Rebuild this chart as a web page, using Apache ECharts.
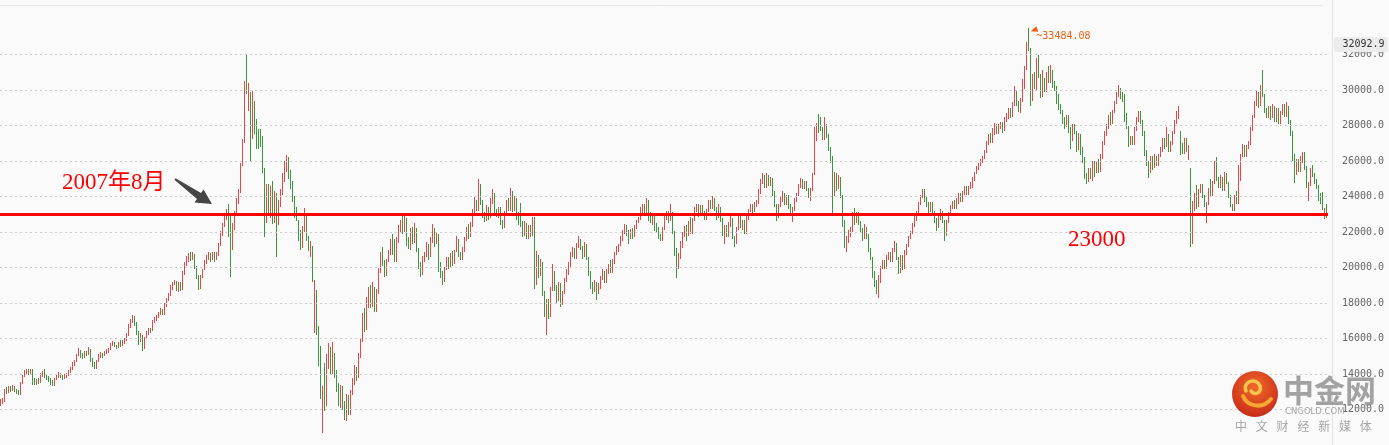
<!DOCTYPE html>
<html><head><meta charset="utf-8">
<script src="https://cdn.jsdelivr.net/npm/echarts@6/dist/echarts.min.js"></script>
<style>html,body{margin:0;padding:0;background:#fafafa}#c{width:1389px;height:445px}</style>
</head><body><div id="c"></div>
<script>
// candles: [open, close, low, high] (about one candle per ~1.4 weeks)
const c01 = [[12350,12450,12200,12600],[12450,12500,12300,12650],[12450,13100,12430,13160],[13100,13000,12900,13260],[13000,13200,12950,13300],[13200,13100,13000,13350],[13100,13300,13050,13400],[13250,13050,13000,13300],[13050,13000,12900,13150],[13000,12850,12800,13100],
[12850,13500,12800,13550],[13500,13900,13450,13950],[13900,14100,13850,14200],[14100,14250,14000,14300],[14250,14050,13950,14280],[14050,14250,14000,14300],[14250,13500,13400,14280],[13600,13450,13400,13750],[13450,13600,13400,13700],[13650,13500,13420,13800],
[13500,13950,13480,14050],[13950,14050,13850,14150],[14150,13900,13800,14300],[13900,13750,13650,14000],[13800,13650,13550,13900],[13650,13500,13400,13750],[13550,13400,13350,13650],[13400,13700,13350,13800],[13700,13850,13650,13950],[13850,14050,13800,14100],
[14000,13850,13750,14050],[13850,13750,13650,13950],[13750,13900,13700,14000],[13900,13950,13800,14050],[13950,14150,13900,14250],[14150,14300,14050,14370],[14300,14550,14250,14650],[14550,14750,14450,14800],[14750,15050,14700,15150],[15050,15300,15000,15450],
[15300,15100,14900,15350],[15100,14950,14850,15200],[14950,15200,14900,15300],[15200,15100,15000,15300],[15100,15400,15050,15500],[15350,14800,14700,15400],[14800,14500,14400,14900],[14500,14350,14280,14650],[14350,14700,14300,14800],[14700,15000,14650,15100]];
const c02 = [[15000,15150,14900,15240],[15150,15050,14900,15200],[15050,15200,15000,15300],[15200,15300,15100,15400],[15300,15400,15200,15450],[15400,15650,15380,15750],[15650,15750,15550,15850],[15750,15600,15500,15800],[15600,15500,15400,15650],[15500,15700,15450,15800],
[15700,15600,15500,15900],[15600,15800,15550,15900],[15800,15950,15700,16040],[15950,16200,15850,16300],[16200,16700,16150,16800],[16700,17000,16600,17100],[17000,17200,16900,17330],[17200,16900,16700,17250],[16900,16300,16200,16950],[16300,15900,15660,16400],
[15900,16100,15800,16300],[16100,15500,15300,16200],[15500,16000,15400,16100],[16000,16300,15950,16450],[16300,16500,16200,16590],[16500,16450,16300,16600],[16450,16950,16400,17050],[16950,17100,16870,17200],[17100,17250,17000,17330],[17250,17400,17150,17500],
[17400,17550,17300,17700],[17550,17400,17300,17650],[17400,17900,17350,18000],[17900,18200,17800,18300],[18200,18450,18100,18540],[18450,18900,18400,19000],[18900,19100,18720,19200],[19100,19200,19000,19280],[19200,18900,18700,19250],[18900,19100,18630,19200],
[19100,18800,18700,19200],[18800,19700,18750,19800],[19700,20200,19560,20300],[20200,20500,20100,20670],[20500,20700,20300,20800],[20700,20500,20350,20860],[20500,20750,20400,20860],[20750,20000,19900,20770],[20000,19500,19370,20100],[19500,18900,18720,19600]];
const c03 = [[18900,19500,18800,19600],[19500,19900,19400,19930],[19900,20300,19850,20400],[20300,20600,20200,20700],[20600,20700,20400,20860],[20700,20500,20300,20800],[20500,20800,20400,20900],[20800,20600,20300,20860],[20600,20700,20400,20860],[20700,21300,20650,21400],
[21300,21900,21200,22070],[21900,22400,21800,22500],[22400,22900,22300,23000],[22900,23200,22700,23270],[23200,22300,21700,23550],[22300,21500,19460,23000],[21500,22300,21000,22500],[22300,23100,22100,23180],[23100,23800,23000,23900],[23800,24300,23550,24400],
[24300,25800,24200,25870],[25800,27200,25700,27260],[27200,29800,27000,30500],[31000,30400,29800,31958],[29100,30200,28800,30400],[29800,27000,26000,29900],[27300,29500,27260,29960],[29300,27800,27500,29400],[28200,26800,26700,28380],[27600,26900,26700,27800],
[27500,27000,26800,27800],[27200,25500,25300,27400],[25500,23500,21700,25600],[22800,24400,22500,24700],[24600,23200,22900,24700],[23000,24500,22800,24600],[24400,22800,22450,24850],[22700,24200,22500,24300],[24000,22600,20600,24200],[22700,23700,22400,23800],
[23600,24300,23400,24400],[24200,25100,24100,25300],[25000,25800,24800,26000],[25600,26100,25400,26340],[26000,25200,25000,26200],[25300,24600,24400,25500],[24700,23900,23700,24900],[23800,23000,22800,24000],[23200,22700,22620,23400],[22600,21800,21500,22700]];
const c04 = [[21900,21300,21000,22100],[21300,22200,21100,22340],[22100,23000,22000,23360],[22800,21600,21500,22900],[21700,21000,20950,21800],[20900,21300,20600,21500],[21100,19500,19200,21230],[17000,18900,16300,19300],[18700,16500,16200,18720],[16500,14800,14450,16700],
[15400,12800,12600,15560],[12400,13000,10676,13340],[14000,12300,11900,14600],[12300,14700,12200,15100],[14500,15300,14300,15750],[15300,14200,14000,15500],[14200,15200,14000,15800],[15100,14000,13800,15200],[14000,13200,13000,14200],[13300,12400,12200,13500],
[12300,13200,12100,13400],[13200,12200,12000,13300],[12300,11800,11400,12500],[11700,12700,11345,12900],[12600,11900,11700,12800],[11800,13000,11700,13100],[12900,13600,12800,13800],[13500,14300,13400,14500],[14300,13800,13600,14400],[13900,15100,13800,15200],
[15000,15900,14900,16000],[15800,17200,15800,17450],[17000,16600,16390,17700],[16600,17900,16500,18340],[17800,18700,17700,18900],[18800,17900,17700,19000],[17900,18900,17800,19180],[18800,17600,17500,18900],[17600,18600,17500,18800],[18600,19900,18500,20000],
[19800,20700,19700,20900],[20800,20300,20100,21180],[20300,19700,19460,20400],[19600,20400,19500,20500],[20400,20900,20300,21000],[20800,21500,20700,21600],[21600,20900,20700,21880],[21500,20500,20300,21600],[20400,21500,20300,21700],[21500,22300,21400,22400]];
const c05 = [[22200,22600,22000,22700],[22700,22100,21900,23000],[22100,22800,22000,22950],[22700,21400,21200,22800],[21500,21100,21050,21700],[21100,22100,21000,22200],[22200,21500,21300,22300],[21500,22200,21400,22500],[22100,21000,20900,22200],[21000,20100,19930,21100],
[20200,19700,19460,20300],[19700,20500,19600,20670],[20400,20800,20300,20900],[20700,21300,20600,21420],[21200,20600,20400,21300],[20700,21600,20600,21700],[21500,22100,21400,22450],[22100,21400,21140,22200],[21400,21900,21300,22000],[21800,20200,19740,21900],
[20200,19600,19400,20300],[19700,19300,19000,19800],[19300,19900,19200,20020],[19900,20500,19840,20600],[20500,20100,19900,20600],[20100,20700,20000,20800],[20700,20300,20100,20950],[20300,20900,20200,21000],[20900,21600,20860,21790],[21500,20800,20600,21600],
[20800,20500,20400,20900],[20500,21000,20400,21140],[21000,21600,20900,21700],[21600,22200,21500,22300],[22200,21800,21600,22450],[21800,22400,21700,22540],[22400,23200,22300,23300],[23100,23600,23000,23950],[23700,23300,23200,23800],[23300,24700,23200,25000],
[24600,23700,23500,24700],[23700,23000,22800,23800],[23000,22700,22540,23100],[22700,23400,22600,23500],[23300,22900,22700,23400],[22900,23800,22800,23900],[23800,24200,23600,24400],[24100,23200,22900,24200],[23200,22900,22820,23300],[22900,23300,22800,23400]];
const c06 = [[23300,22600,22400,23400],[22600,22300,22170,22700],[22300,23100,22200,23200],[23100,23700,23000,23800],[23800,23300,23200,23900],[23300,24200,23200,24500],[24200,23300,23100,24300],[23300,23900,23200,24000],[23800,22900,22700,23900],[23000,22600,22400,23100],
[23300,22500,22300,23650],[22500,21900,21700,22600],[21900,22500,21800,22630],[22400,21700,21600,22500],[21700,22300,21600,22400],[22300,21900,21700,22400],[21900,22600,21800,22820],[22700,20900,18800,22820],[19400,20600,19000,20950],[20600,19600,19400,20700],
[19600,20300,19500,20500],[20200,18600,18400,20300],[18600,17600,17200,18700],[16800,18000,16170,18200],[18000,17300,17100,18200],[17300,18800,17200,18900],[18800,19800,18700,20210],[19700,18900,18700,19800],[18900,18200,18000,19000],[18200,19000,18100,19200],
[19000,18000,17780,19100],[18000,18600,17900,18700],[18600,19300,18500,19400],[19300,19800,19200,19900],[19700,20200,19600,20300],[20100,20800,20000,20900],[20700,21000,20600,21140],[21000,20600,20500,21100],[20600,21300,20500,21400],[21200,21600,21100,21800],
[21500,21100,21000,21600],[21100,20700,20500,21200],[20700,21200,20600,21420],[21200,20500,20400,21300],[20500,19700,19500,20600],[19700,19000,18800,19800],[19100,18700,18530,19200],[18700,19100,18600,19270],[19100,18600,18150,19200],[18600,19000,18500,19100]];
const c07 = [[19000,19400,18800,19500],[19400,19700,19300,19930],[19700,19200,19100,19800],[19200,19800,19100,19900],[19800,20100,19650,20200],[20100,19800,19700,20400],[19800,20400,19700,20500],[20400,20800,20200,20900],[20800,21000,20700,21200],[21000,21300,20900,21330],
[21300,21700,21200,21800],[21700,22000,21510,22100],[22000,22300,21900,22450],[22300,22000,21800,22400],[22000,21700,21330,22100],[21700,22100,21600,22170],[22100,21800,21600,22200],[21800,22300,21700,22400],[22300,22600,22170,22700],[22600,22800,22500,22820],
[22800,23300,22700,23400],[23300,23500,23000,23560],[23500,23100,23000,23600],[23100,23700,23000,23930],[23700,23000,22630,23800],[23000,22600,22500,23100],[22600,22900,22400,23000],[22900,22400,22070,23000],[22400,22200,22000,22500],[22200,21700,21600,22300],
[21800,21600,21510,21900],[21600,22200,21500,22300],[22200,22800,22100,22900],[22800,23100,22700,23190],[23100,22700,22500,23200],[22700,23300,22600,23560],[23000,22000,21900,23100],[22000,21000,20670,22070],[21000,20000,19410,21100],[20000,20700,19900,20800],
[20700,21300,20500,21510],[21200,21900,21100,22000],[21800,22300,21700,22350],[22300,21900,21510,22400],[21900,22500,21800,22600],[22500,22000,21900,22820],[22000,22700,21900,22800],[22700,23300,22600,23400],[23200,23500,23100,23560],[23500,23000,22820,23600]];
const c08 = [[23000,23400,22900,23500],[23400,23100,22900,23500],[23100,22800,22700,23200],[22800,23200,22700,23300],[23200,23700,23100,23800],[23700,23400,23300,23800],[23400,23900,23300,24030],[23800,23300,23200,23900],[23300,22900,22700,23400],[22900,23300,22800,23560],
[23300,22700,22540,23400],[22700,22000,21800,22800],[21600,22300,21330,22400],[22300,21800,21700,22400],[21800,22500,21700,22540],[22400,22800,22300,22900],[22700,21700,21600,22800],[21700,21300,21140,21800],[21400,22200,21300,22300],[22200,22800,22100,23000],
[22800,22300,22200,22900],[22300,22600,22100,22700],[22600,22000,21900,22700],[22000,22800,21900,22900],[22800,23200,22700,23280],[23200,23500,23100,23600],[23500,23200,23000,23600],[23200,23500,23100,23700],[23500,23700,23400,23800],[23700,24300,23600,24400],
[24300,24800,24120,24970],[24800,25100,24700,25330],[25100,24600,24500,25200],[24600,25100,24500,25300],[25100,24700,24600,25200],[24700,25000,24600,25100],[25000,24200,24000,25050],[24200,23500,23400,24300],[23500,22900,22630,23600],[22900,23500,22800,23600],
[23500,23900,23400,24000],[23800,24100,23700,24300],[24100,23600,23500,24200],[23600,24000,23500,24100],[24000,23500,23300,24100],[23500,23000,22900,23600],[22700,23300,22540,23400],[23300,23800,23200,23900],[23800,24100,23700,24200],[24100,24600,24000,24700]];
const c09 = [[24600,24900,24500,25050],[24900,24500,24400,25000],[24500,24800,24400,24900],[24800,24400,24300,24900],[24400,24000,23900,24500],[23900,24400,23750,24500],[24400,25200,24300,25330],[25300,27500,25200,27940],[27300,28000,27100,28130],[28100,27700,27600,28630],
[28400,27800,27700,28500],[27800,27300,27200,27900],[27300,28100,27200,28500],[28000,27400,27300,28100],[27400,26700,26550,27500],[26700,26100,25900,26800],[26100,24000,22900,26270],[24100,25200,24000,25400],[25200,24500,24300,25300],[24500,25100,24400,25200],
[25000,24000,23900,25100],[24000,22700,22260,24100],[22600,21300,21100,22700],[21000,21700,20860,21800],[21600,22000,21400,22100],[21900,22100,21700,22260],[22100,23000,22000,23100],[23000,22600,22400,23380],[22600,23000,22500,23100],[23000,22500,22400,23100],
[22500,22100,22000,22600],[22100,21700,21510,22200],[21700,22100,21600,22450],[22200,21800,21600,22300],[21800,21000,20900,21900],[21000,20500,20400,21100],[20500,19600,19400,20600],[19700,19100,18900,19800],[19200,18700,18530,19300],[18600,19500,18280,19600],
[19300,20000,19100,20100],[20000,20300,19900,20400],[20300,20000,19900,20400],[20000,20600,19900,20700],[20500,20800,20400,20860],[20800,20400,20300,20900],[20400,21000,20300,21100],[21000,21300,20900,21510],[21300,20500,20400,21400],[20500,19800,19650,20600]];
const c10 = [[19800,20600,19700,20700],[20600,20000,19840,20700],[20000,20900,19900,21000],[20800,21200,20700,21330],[21200,21700,21140,21800],[21700,22000,21600,22070],[22000,22400,21900,22500],[22400,22800,22260,22900],[22700,23100,22600,23190],[23100,23600,23000,23700],
[23600,24000,23500,24100],[24000,24300,23900,24400],[24300,23800,23700,24400],[23900,23600,23400,24000],[23600,23300,23000,23700],[23300,23600,23100,23700],[23600,23100,23000,23700],[23100,22700,22500,23190],[22700,22300,22070,22800],[22300,22800,22200,22900],
[22800,23200,22700,23300],[23100,22600,22500,23200],[22600,22000,21510,22700],[21900,22600,21800,22700],[22600,23000,22500,23100],[23000,23400,22900,23500],[23400,23700,23300,23750],[23700,23400,23300,23800],[23400,23800,23300,23900],[23800,24100,23600,24220],
[24100,23800,23700,24200],[23800,24200,23700,24300],[24200,24500,24100,24590],[24500,24200,24100,24600],[24200,24500,24100,24600],[24500,24700,24400,24800],[24700,25000,24500,25100],[25000,25300,24900,25400],[25300,25600,25240,25700],[25600,25800,25500,25900],
[25800,26000,25700,26100],[26000,26200,25900,26300],[26200,26500,26100,26600],[26500,27000,26450,27100],[27000,27400,26900,27500],[27500,27100,27000,27600],[27100,27700,27000,27850],[27700,28000,27470,28130],[28000,27700,27500,28100],[27600,28000,27530,28090]];
const c11 = [[27900,28100,27800,28200],[28100,27700,27600,28200],[27800,28400,27700,28500],[28400,28600,28180,28700],[28500,28900,28370,29000],[28900,28500,28400,29000],[28600,29200,28500,29300],[29200,29900,29100,30220],[29900,29300,29100,30000],[29300,28800,28740,29400],
[28800,29400,28700,29570],[29400,30500,29300,30600],[30500,31200,30030,31330],[31200,32500,31100,32720],[33200,32400,32200,33484.08],[32300,29500,29100,32350],[29500,30800,29400,30900],[30900,30100,30030,31000],[30100,31200,30000,31800],[31500,30800,30700,31950],
[30800,29800,29570,30900],[29700,30500,29600,31150],[30600,30000,29900,30700],[30000,30900,29900,31000],[31000,30500,30400,31330],[30500,31000,30400,31400],[31000,30300,30100,31100],[30400,30000,29940,30500],[30100,29600,29200,30200],[29700,29100,28900,29800],
[29100,28700,28640,29200],[28800,28300,28100,28900],[28400,28000,27800,28500],[28000,28500,27900,28600],[28500,27800,27600,28600],[27800,27200,26700,27900],[27200,28000,27100,28100],[28000,27600,27500,28100],[27600,26800,26500,27700],[26700,27500,26600,27600],
[27400,26700,26330,27500],[26700,26100,25900,26800],[26100,25200,25000,26200],[25200,24900,24700,25300],[24900,25500,24800,25600],[25500,25100,25000,25600],[25000,25900,24900,26000],[25900,25400,25100,26000],[25400,25900,25300,26000],[25900,25500,25300,26100]];
const c12 = [[25500,26300,25400,26400],[26300,27000,26140,27100],[27000,27500,26900,27710],[27500,28000,27400,28100],[28000,28500,27800,28600],[28500,28200,28000,28740],[28200,28800,28100,28900],[28800,29300,28700,29400],[29300,29800,29200,29900],[29800,30000,29600,30280],
[30000,29700,29500,30130],[29800,29500,29300,29900],[29600,28500,28180,29760],[28600,27900,27800,28700],[27900,27000,26800,28000],[27000,27300,26880,27430],[27300,27000,26900,27400],[27000,27800,26900,27900],[27800,28400,27700,28500],[28300,28700,28180,28830],
[28700,28200,28100,28800],[28200,27600,27400,28300],[27600,26500,26300,27700],[26500,25900,25700,26600],[25900,25400,25030,26000],[25400,26200,25300,26300],[26200,25700,25500,26300],[25700,26200,25600,26400],[26200,25800,25700,26300],[25800,26300,25700,26400],
[26300,26600,26200,26800],[26600,27200,26500,27300],[27200,26900,26700,27300],[26900,27500,26800,27900],[27400,26600,26500,27500],[26600,27000,26500,27100],[27000,27600,26900,27700],[27600,28200,27500,28300],[28200,28700,28100,28800],[28700,28800,28360,29100],
[27600,26700,26330,27700],[26900,26500,26400,27000],[26500,27200,26400,27300],[27200,26600,26500,27300],[26400,26800,26050,26900],[25600,22200,21139,25600],[22000,23300,21300,23730],[23300,24000,23200,24200],[24000,23500,23300,24650],[23500,24300,23400,24400]];
const c13 = [[24300,24600,24200,24700],[24600,24000,23900,24700],[24000,23500,23400,24100],[23100,23600,22520,23700],[23600,24400,23500,24500],[24600,24100,24000,25000],[24100,24800,24000,24900],[24800,25700,24700,26000],[25700,25000,24900,26200],[25000,24600,24500,25100],
[24600,25000,24500,25200],[25000,24400,24300,25100],[24400,25300,24300,25400],[25200,24800,24700,25300],[24800,24000,23900,24840],[24000,23500,23400,24100],[23500,23300,23170,23600],[23300,24000,23200,24100],[24000,23700,23600,24300],[23700,25000,23600,25770],
[25000,26300,24900,26400],[26300,26800,26200,26970],[26800,26300,26200,26900],[26300,26800,26200,26900],[26800,27000,26700,27100],[27000,27800,26900,27900],[27800,28500,27700,28600],[28500,29300,28400,29400],[29300,29700,29100,29940],[29800,29200,29000,29900],
[29200,30200,29100,30300],[30300,29700,29600,31150],[29700,28800,28700,29800],[28900,28500,28400,29000],[28500,29000,28400,29100],[29000,28500,28300,29100],[28500,29100,28400,29200],[29000,28300,28200,29100],[28300,28900,28200,29000],[28900,28200,28100,29000],
[28200,28700,28100,28800],[28700,29100,28600,29200],[29100,28600,28500,29200],[28600,29100,28500,29300],[29000,28200,28100,29100],[28200,27600,27430,28300],[27600,26200,26000,27700],[26300,25300,24740,26400],[25300,26000,25200,26100],[26000,25500,25400,26100]];
const c14 = [[25500,26200,25400,26300],[26000,26400,25900,26500],[26400,25600,25500,26500],[25600,24800,24470,25700],[24000,24700,23730,24840],[24700,25500,24600,25600],[25600,25200,25100,25770],[25200,24800,24700,25300],[24900,24500,24400,25000],[24500,24000,23730,24650],
[24100,23700,23600,24200],[23800,23300,23260,24280],[22900,23300,22710,23360],[23300,22900,22800,23550]];

const gridValues = [12000,14000,16000,18000,20000,22000,24000,26000,28000,30000,32000];
const levelValue = 23000;
const lastPriceText = '32092.9';
const noteDateText = '2007年8月';
const noteLevelText = '23000';
const brandName = '中金网';
const brandSite = 'CNGOLD.COM';
const brandSlogan = ['中','文','财','经','新','媒','体'];

const candles = [].concat(c01,c02,c03,c04,c05,c06,c07,c08,c09,c10,c11,c12,c13,c14);
const categories = candles.map((_, i) => String(i + 1));
const seriesData = candles.map((c, i) => [i, c[0], c[1], c[2], c[3]]);

// locate the highest high (for the peak annotation)
let peakIdx = 0;
candles.forEach((c, i) => { if (c[3] > candles[peakIdx][3]) peakIdx = i; });
const peakHigh = candles[peakIdx][3];

const RED = '#e84545', GREEN = '#3a983a';
const chart = echarts.init(document.getElementById('c'), null, {renderer: 'canvas'});

const gLines = gridValues.map(v => ({yAxis: v, lineStyle: {color: '#cdcdcd', width: 1, type: [2, 3]}}));
gLines.push({yAxis: levelValue, lineStyle: {color: '#ff0000', width: 3, type: 'solid'}});

const slogan = brandSlogan.map((ch, k) => ({
  type: 'text', x: 1235 + k * 20.8, y: 420, z: 101,
  style: {text: ch, fill: 'rgba(150,150,150,0.85)', font: '12px "Noto Sans CJK SC"', verticalAlign: 'top'}
}));

function bez(p, color, w) {
  return {type: 'bezierCurve', z: 101,
    shape: {x1: p[0], y1: p[1], cpx1: p[2], cpy1: p[3], cpx2: p[4], cpy2: p[5], x2: p[6], y2: p[7]},
    style: {fill: null, stroke: color, lineWidth: w, lineCap: 'round'}};
}

function renderCandle(params, api) {
  const i = api.value(0);
  const o = api.value(1), c = api.value(2), l = api.value(3), h = api.value(4);
  const cx = api.coord([i, o])[0];
  const px = 2 * Math.floor(cx / 2);
  const yO = Math.round(api.coord([i, o])[1]);
  const yC = Math.round(api.coord([i, c])[1]);
  const yL = Math.round(api.coord([i, l])[1]);
  const yH = Math.round(api.coord([i, h])[1]);
  const col = c >= o ? RED : GREEN;
  const top = Math.min(yO, yC), bot = Math.max(yO, yC);
  return {
    type: 'group',
    children: [
      {type: 'rect', shape: {x: px, y: yH, width: 1, height: Math.max(1, yL - yH)}, style: {fill: col}},
      {type: 'rect', shape: {x: px, y: top, width: 1, height: Math.max(1, bot - top)}, style: {fill: col}}
    ]
  };
}

chart.setOption({
  backgroundColor: '#fafafa',
  animation: false,
  grid: {left: 0, right: 61, top: 19, bottom: -5},
  xAxis: {
    type: 'category', data: categories, boundaryGap: true,
    axisLine: {show: false}, axisTick: {show: false}, axisLabel: {show: false}, splitLine: {show: false}
  },
  yAxis: {
    type: 'value', position: 'right', min: 10000, max: 34000, interval: 2000,
    axisLine: {show: false}, axisTick: {show: false}, splitLine: {show: false},
    axisLabel: {
      margin: 14, color: '#666', fontFamily: '"DejaVu Sans Mono", monospace', fontSize: 10,
      formatter: v => (v >= 12000 && v <= 32000) ? v.toFixed(1) : ''
    }
  },
  series: [{
    type: 'custom', data: seriesData, renderItem: renderCandle, clip: true,
    encode: {x: 0, y: [1, 2, 3, 4]},
    markLine: {silent: true, symbol: ['none', 'none'], label: {show: false}, animation: false, data: gLines},
    markPoint: {
      silent: true, symbol: 'triangle', symbolSize: [6, 7], symbolRotate: 110, symbolOffset: [5, 2],
      itemStyle: {color: '#ee6010'},
      label: {
        show: true, position: 'right', distance: 0, offset: [-2, 6], color: '#ee6010',
        fontFamily: '"DejaVu Sans Mono", monospace', fontSize: 10,
        formatter: p => '~' + Number(p.value).toFixed(2)
      },
      data: [{coord: [peakIdx, peakHigh], value: peakHigh}]
    }
  }],
  graphic: [
    {type: 'line', z: 50, shape: {x1: 0, y1: 5.5, x2: 1323, y2: 5.5}, style: {stroke: '#e6e6e6', lineWidth: 1}},
    {type: 'line', z: 50, shape: {x1: 1332.5, y1: 0, x2: 1332.5, y2: 445}, style: {stroke: '#e2e2e2', lineWidth: 1}},
    {type: 'rect', z: 60, shape: {x: 1334, y: 37, width: 54, height: 15, r: 2}, style: {fill: '#ececec'}},
    {type: 'text', z: 61, x: 1342.5, y: 44.5, style: {text: lastPriceText, fill: '#333', font: '10px "DejaVu Sans Mono", monospace', verticalAlign: 'middle'}},
    {type: 'text', z: 60, x: 62, y: 183, style: {text: noteDateText, fill: '#ff0000', font: '23px "Liberation Serif", "Noto Sans CJK SC", serif', verticalAlign: 'middle'}},
    {type: 'polygon', z: 60, shape: {points: [[175.6,178.2],[201,193.1],[203.6,189.4],[212,204],[194.4,202.6],[197,198.9],[174.4,179.8]]}, style: {fill: '#464646'}},
    {type: 'text', z: 60, x: 1068, y: 240, style: {text: noteLevelText, fill: '#ff0000', font: '23px "Liberation Serif", serif', verticalAlign: 'middle'}},
    {type: 'circle', z: 100, shape: {cx: 1255, cy: 394, r: 23}, style: {fill: {type: 'radial', x: 0.5, y: 0.35, r: 0.7, colorStops: [{offset: 0, color: '#f26a28'}, {offset: 1, color: '#c42818'}]}}},
    bez([1246,391, 1242,381, 1257,377, 1260,386], '#fbc44a', 3.5),
    bez([1260,386, 1262,393, 1254,396, 1251,391], '#fbc44a', 3.5),
    bez([1243,396, 1247,406, 1262,410, 1271,399], '#f6a830', 4),
    {type: 'text', z: 101, x: 1283, y: 375, style: {text: brandName, fill: 'rgba(140,140,140,0.8)', font: 'bold 31px "Noto Sans CJK SC"', verticalAlign: 'top'}},
    {type: 'text', z: 101, x: 1285, y: 407, style: {text: brandSite, fill: 'rgba(150,150,150,0.85)', font: '8.5px "DejaVu Sans"', verticalAlign: 'top'}}
  ].concat(slogan)
});
</script></body></html>
